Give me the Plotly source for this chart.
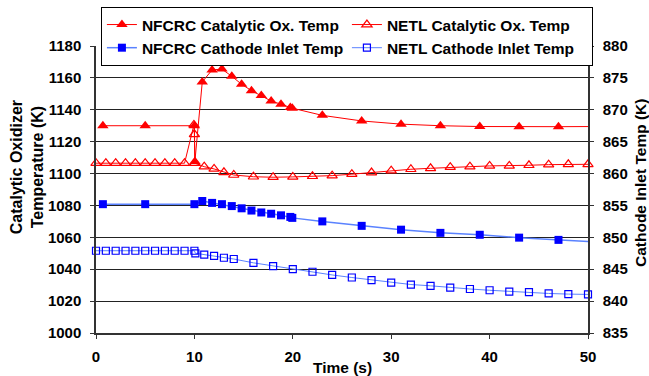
import plotly.graph_objects as go

# ---- data ----
nfcrc_cat_t = [0.7, 5, 10, 10.05, 10.8, 11.8, 12.8, 13.8, 14.8, 15.8, 16.8, 17.8, 18.8, 19.75, 19.95,
               23, 27, 31, 35, 39, 43, 47, 51]
nfcrc_cat_v = [1130, 1130, 1130, 1107.5, 1157.5, 1165, 1165.5, 1161, 1156, 1152, 1149, 1145.5, 1143.5,
               1141.5, 1141, 1136.5, 1133, 1131, 1130, 1129.5, 1129.3, 1129.4, 1129.5]

netl_cat_t = [0, 1, 2, 3, 4, 5, 6, 7, 8, 9, 9.95, 10, 10.05, 11, 12, 13, 14, 16, 18, 20, 22, 24,
              26, 28, 30, 32, 34, 36, 38, 40, 42, 44, 46, 48, 50]
netl_cat_v = [1106.5, 1106.5, 1106.5, 1106.5, 1106.5, 1106.5, 1106.5, 1106.5, 1106.5, 1106.5,
              1130.5, 1124.6, 1106.5, 1104.3, 1102.9, 1100.8, 1099.1, 1098.0, 1097.7, 1097.9, 1098.3,
              1098.7, 1099.6, 1100.6, 1101.8, 1102.7, 1103.3, 1104.0, 1104.3, 1104.8, 1104.8, 1105.2,
              1105.6, 1105.8, 1105.8]

nfcrc_cath_t = [0.7, 5, 10, 10.8, 11.8, 12.8, 13.8, 14.8, 15.8, 16.8, 17.8, 18.8, 19.75, 19.95,
                23, 27, 31, 35, 39, 43, 47, 51]
nfcrc_cath_v = [855.2, 855.2, 855.2, 855.7, 855.4, 855.2, 854.9, 854.55, 854.2, 853.9, 853.7, 853.45,
                853.2, 853.05, 852.5, 851.8, 851.2, 850.7, 850.4, 849.95, 849.6, 849.25]

netl_cath_t = [0, 1, 2, 3, 4, 5, 6, 7, 8, 9, 10, 10.1, 11, 12, 13, 14, 16, 18, 20, 22, 24, 26, 28,
               30, 32, 34, 36, 38, 40, 42, 44, 46, 48, 50]
netl_cath_v = [847.9, 847.9, 847.9, 847.9, 847.9, 847.9, 847.9, 847.9, 847.9, 847.9, 847.9, 847.5,
               847.3, 847.1, 846.8, 846.6, 846.0, 845.5, 845.0, 844.6, 844.1, 843.7, 843.3, 842.9,
               842.6, 842.4, 842.1, 841.9, 841.7, 841.5, 841.4, 841.2, 841.1, 841.05]

x_ticks = [0, 10, 20, 30, 40, 50]
left_ticks = [1000, 1020, 1040, 1060, 1080, 1100, 1120, 1140, 1160, 1180]
right_ticks = [835, 840, 845, 850, 855, 860, 865, 870, 875, 880]

FONT = "Liberation Sans, Arial, sans-serif"
RED = "#FF0000"
BLUE = "#0000FF"
LBLUE = "#5A82FF"

fig = go.Figure()
fig.add_trace(go.Scatter(
    x=nfcrc_cat_t, y=nfcrc_cat_v, name="NFCRC Catalytic Ox. Temp", mode="lines+markers",
    line=dict(color=RED, width=1),
    marker=dict(symbol="triangle-up", size=10, color=RED, line=dict(width=0)),
    yaxis="y", cliponaxis=True))
fig.add_trace(go.Scatter(
    x=netl_cat_t, y=netl_cat_v, name="NETL Catalytic Ox. Temp", mode="lines+markers",
    line=dict(color=RED, width=1),
    marker=dict(symbol="triangle-up-open", size=9, color=RED, line=dict(width=1.2)),
    yaxis="y", cliponaxis=False))
fig.add_trace(go.Scatter(
    x=nfcrc_cath_t, y=nfcrc_cath_v, name="NFCRC Cathode Inlet Temp", mode="lines+markers",
    line=dict(color=LBLUE, width=1.5),
    marker=dict(symbol="square", size=8, color=BLUE, line=dict(width=0)),
    yaxis="y2", cliponaxis=True))
fig.add_trace(go.Scatter(
    x=netl_cath_t, y=netl_cath_v, name="NETL Cathode Inlet Temp", mode="lines+markers",
    line=dict(color=LBLUE, width=1),
    marker=dict(symbol="square-open", size=7, color=BLUE, line=dict(width=1.2)),
    yaxis="y2", cliponaxis=False))

tickfont = dict(family=FONT, size=15, color="black", weight="bold")

fig.update_layout(
    width=649, height=376,
    margin=dict(l=96, r=61, t=46, b=43, autoexpand=False),
    paper_bgcolor="white", plot_bgcolor="white",
    font=dict(family=FONT, color="black"),
    showlegend=True,
    legend=dict(orientation="h", x=0.01, xanchor="left", y=1.136, yanchor="top",
                font=dict(family=FONT, size=15.5, color="black", weight="bold"),
                bordercolor="black", borderwidth=1, bgcolor="white",
                entrywidth=200, entrywidthmode="pixels", traceorder="normal"),
    xaxis=dict(range=[0, 50], tickvals=x_ticks, ticks="outside", ticklen=4, tickcolor="#333",
               showline=True, linecolor="#333", linewidth=1.5, showgrid=False, zeroline=False,
               tickfont=tickfont, ticklabelstandoff=5),
    yaxis=dict(range=[1000, 1180], tickvals=left_ticks, ticks="outside", ticklen=4, tickcolor="#333",
               showline=True, linecolor="#333", linewidth=1.5, showgrid=True, gridcolor="#222",
               gridwidth=1, zeroline=False, tickfont=tickfont, ticklabelstandoff=6),
    yaxis2=dict(range=[835, 880], tickvals=right_ticks, overlaying="y", side="right",
                ticks="outside", ticklen=4, tickcolor="#333",
                showline=True, linecolor="#333", linewidth=1.5, showgrid=False, zeroline=False,
                tickfont=tickfont, ticklabelstandoff=6),
    annotations=[
        dict(text="Catalytic Oxidizer<br>Temperature (K)", xref="paper", yref="paper",
             x=-0.14, y=0.578, xanchor="center", yanchor="middle", textangle=-90, showarrow=False,
             font=dict(family=FONT, size=16, color="black", weight="bold")),
        dict(text="Cathode Inlet Temp (K)", xref="paper", yref="paper",
             x=1.108, y=0.523, xanchor="center", yanchor="middle", textangle=-90, showarrow=False,
             font=dict(family=FONT, size=15.5, color="black", weight="bold")),
        dict(text="Time (s)", xref="paper", yref="paper",
             x=0.5, y=-0.083, xanchor="center", yanchor="top", showarrow=False,
             font=dict(family=FONT, size=15.5, color="black", weight="bold")),
    ],
)

fig.write_html("out.html")
